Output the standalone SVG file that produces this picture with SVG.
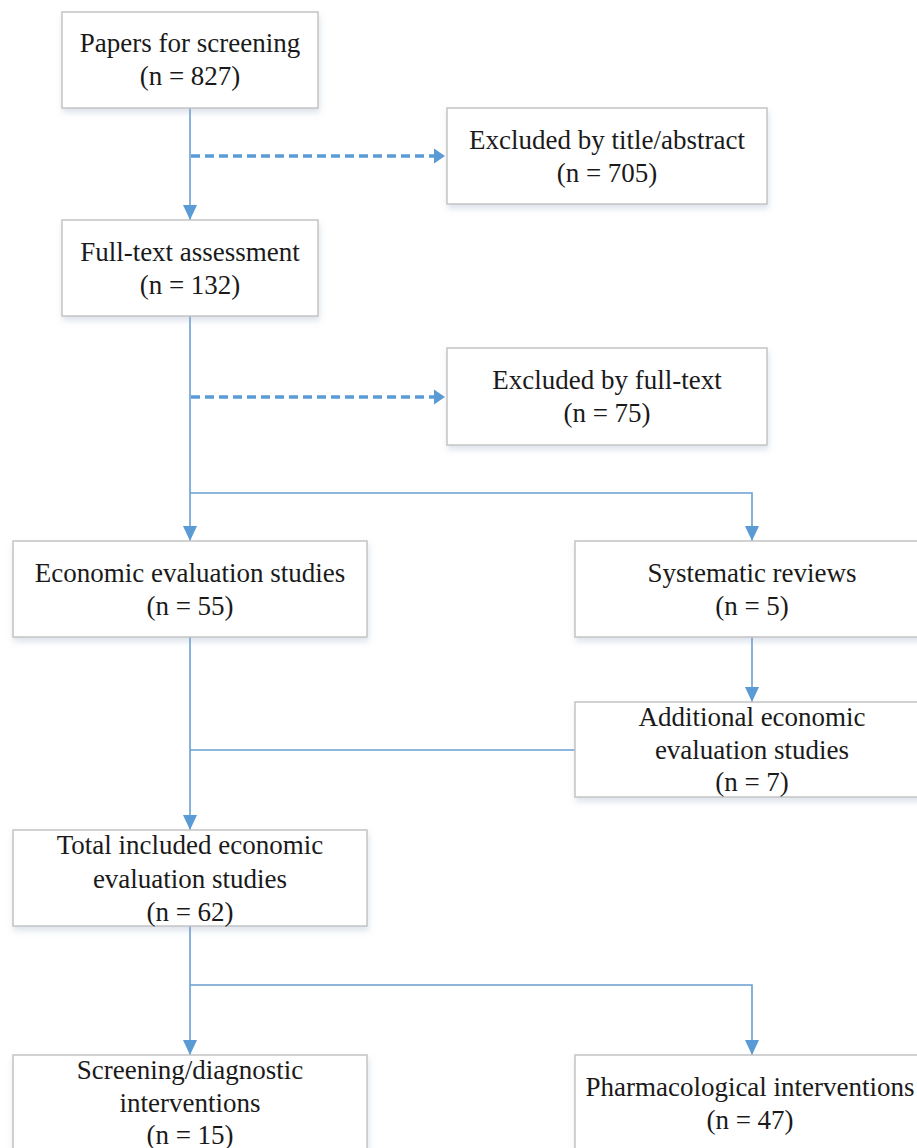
<svg xmlns="http://www.w3.org/2000/svg" width="917" height="1148" viewBox="0 0 917 1148">
<style>
.box{fill:#ffffff;stroke:#c4c4c4;stroke-width:1.5;filter:url(#sh)}
.t{font-family:"Liberation Serif","Times New Roman",serif;font-size:27px;fill:#1a1a1a;text-anchor:middle}
.ln{fill:none;stroke:#6a9fd2;stroke-width:1.6}
.dash{fill:none;stroke:#5b9bd5;stroke-width:3.5;stroke-dasharray:9 5}
</style>
<defs>
<filter id="sh" x="-10%" y="-10%" width="125%" height="135%">
<feDropShadow dx="1" dy="4" stdDeviation="3" flood-color="#8fa3bf" flood-opacity="0.3"/>
</filter>
<marker id="ah" viewBox="0 0 14 15" refX="7" refY="15" markerWidth="14" markerHeight="15" markerUnits="userSpaceOnUse" orient="auto-start-reverse">
<path d="M0,0 L14,0 L7,15 Z" fill="#5b9bd5" transform="rotate(0)"/>
</marker>
<marker id="ad" viewBox="0 0 11 15" refX="11" refY="7.5" markerWidth="11" markerHeight="15" markerUnits="userSpaceOnUse" orient="0">
<path d="M0,0 L11,7.5 L0,15 Z" fill="#5b9bd5"/>
</marker>
</defs>
<rect width="917" height="1148" fill="#ffffff"/>

<g id="connectors">
<line class="ln" x1="190" y1="108" x2="190" y2="220"/>
<path d="M183,205 L197,205 L190,220 Z" fill="#5b9bd5"/>
<line class="dash" x1="191" y1="156" x2="436" y2="156"/>
<path d="M434,148.5 L445,156 L434,163.5 Z" fill="#5b9bd5"/>

<line class="ln" x1="190" y1="316" x2="190" y2="541"/>
<path d="M183,526 L197,526 L190,541 Z" fill="#5b9bd5"/>
<line class="dash" x1="191" y1="397" x2="436" y2="397"/>
<path d="M434,389.5 L445,397 L434,404.5 Z" fill="#5b9bd5"/>
<polyline class="ln" points="190,493 752,493 752,541"/>
<path d="M745,526 L759,526 L752,541 Z" fill="#5b9bd5"/>

<line class="ln" x1="752" y1="637" x2="752" y2="702"/>
<path d="M745,687 L759,687 L752,702 Z" fill="#5b9bd5"/>

<line class="ln" x1="190" y1="637" x2="190" y2="830"/>
<path d="M183,815 L197,815 L190,830 Z" fill="#5b9bd5"/>
<line class="ln" x1="190" y1="750" x2="575" y2="750"/>

<line class="ln" x1="190" y1="926" x2="190" y2="1055"/>
<path d="M183,1040 L197,1040 L190,1055 Z" fill="#5b9bd5"/>
<polyline class="ln" points="190,985 752,985 752,1055"/>
<path d="M745,1040 L759,1040 L752,1055 Z" fill="#5b9bd5"/>
</g>

<g id="papers">
<rect class="box" x="62" y="12" width="256" height="96"/>
<text class="t" x="190" y="52">Papers for screening</text>
<text class="t" x="190" y="85">(n = 827)</text>
</g>

<g id="excluded-title">
<rect class="box" x="447" y="108" width="320" height="96"/>
<text class="t" x="607" y="149">Excluded by title/abstract</text>
<text class="t" x="607" y="182">(n = 705)</text>
</g>

<g id="fulltext">
<rect class="box" x="62" y="220" width="256" height="96"/>
<text class="t" x="190" y="261">Full-text assessment</text>
<text class="t" x="190" y="294">(n = 132)</text>
</g>

<g id="excluded-fulltext">
<rect class="box" x="447" y="348" width="320" height="97"/>
<text class="t" x="607" y="389">Excluded by full-text</text>
<text class="t" x="607" y="422">(n = 75)</text>
</g>

<g id="economic">
<rect class="box" x="13" y="541" width="354" height="96"/>
<text class="t" x="190" y="582">Economic evaluation studies</text>
<text class="t" x="190" y="615">(n = 55)</text>
</g>

<g id="systematic">
<rect class="box" x="575" y="541" width="354" height="96"/>
<text class="t" x="752" y="582">Systematic reviews</text>
<text class="t" x="752" y="615">(n = 5)</text>
</g>

<g id="additional">
<rect class="box" x="575" y="702" width="354" height="95"/>
<text class="t" x="752" y="726">Additional economic</text>
<text class="t" x="752" y="759">evaluation studies</text>
<text class="t" x="752" y="791">(n = 7)</text>
</g>

<g id="total">
<rect class="box" x="13" y="830" width="354" height="96"/>
<text class="t" x="190" y="854">Total included economic</text>
<text class="t" x="190" y="888">evaluation studies</text>
<text class="t" x="190" y="921">(n = 62)</text>
</g>

<g id="screening">
<rect class="box" x="13" y="1055" width="354" height="110"/>
<text class="t" x="190" y="1079">Screening/diagnostic</text>
<text class="t" x="190" y="1112">interventions</text>
<text class="t" x="190" y="1144">(n = 15)</text>
</g>

<g id="pharmacological">
<rect class="box" x="575" y="1055" width="354" height="110"/>
<text class="t" x="750" y="1096">Pharmacological interventions</text>
<text class="t" x="750" y="1129">(n = 47)</text>
</g>
</svg>
